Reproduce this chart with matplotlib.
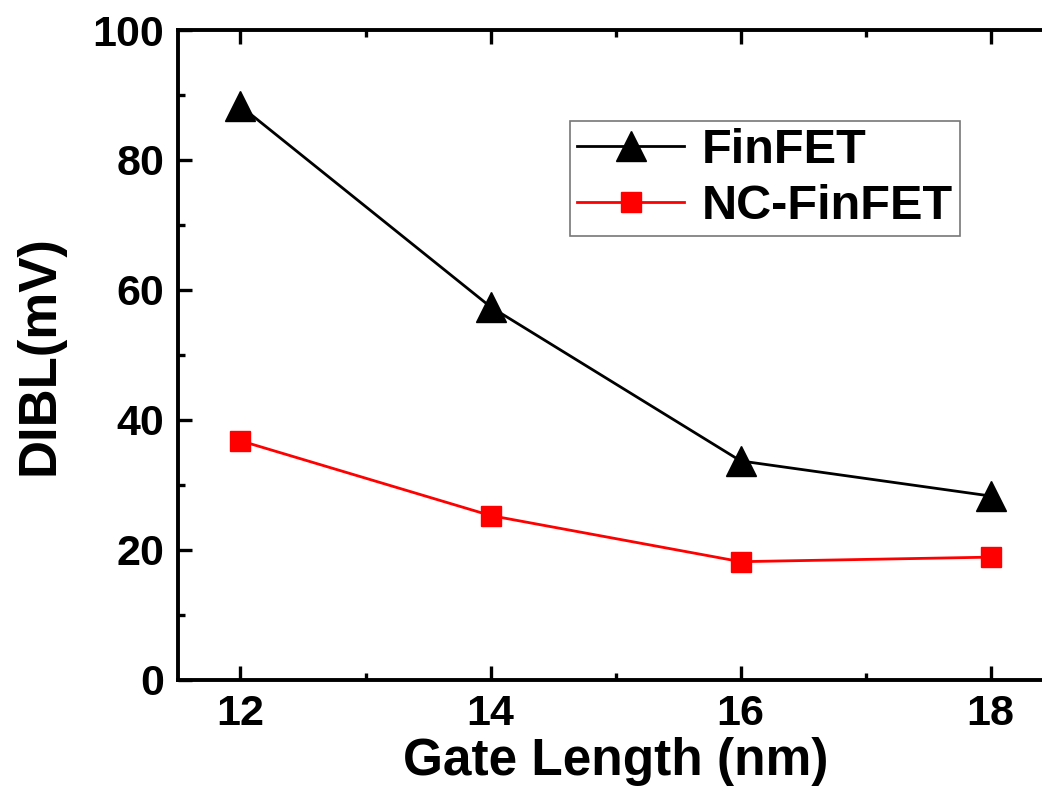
import matplotlib.pyplot as plt
from matplotlib.ticker import MultipleLocator

gate_length = [12, 14, 16, 18]
dibl_finfet = [88.3, 57.4, 33.7, 28.3]
dibl_ncfinfet = [36.8, 25.3, 18.2, 18.9]

plt.rcParams['font.family'] = ['Liberation Sans', 'DejaVu Sans']
plt.rcParams['font.weight'] = 'bold'

fig = plt.figure(figsize=(10.42, 7.98), dpi=100)
ax = fig.add_axes([0.1708, 0.1479, 0.84, 0.8145])

ax.plot(gate_length, dibl_finfet, color='black', lw=2.0, marker='^',
        markersize=21, label='FinFET')
ax.plot(gate_length, dibl_ncfinfet, color='red', lw=2.0, marker='s',
        markersize=15, label='NC-FinFET')

ax.set_xlim(11.5, 18.5)
ax.set_ylim(0, 100)
ax.xaxis.set_major_locator(MultipleLocator(2))
ax.xaxis.set_minor_locator(MultipleLocator(1))
ax.yaxis.set_major_locator(MultipleLocator(20))
ax.yaxis.set_minor_locator(MultipleLocator(10))

for s in ax.spines.values():
    s.set_linewidth(2.8)
ax.spines['right'].set_visible(False)
ax.tick_params(which='both', direction='in', top=True, right=False, width=2.4)
ax.tick_params(which='major', length=10, labelsize=31, pad=10)
ax.tick_params(which='minor', length=5)
for lab in ax.get_xticklabels() + ax.get_yticklabels():
    lab.set_fontweight('bold')

ax.set_xlabel('Gate Length (nm)', fontsize=37, fontweight='bold', labelpad=2)
ax.set_ylabel('DIBL(mV)', fontsize=38, fontweight='bold', labelpad=20)

leg = ax.legend(loc='upper left', bbox_to_anchor=(0.448, 0.86), fontsize=35,
                frameon=True, fancybox=False, edgecolor='#555555',
                handlelength=2.2, handletextpad=0.35, borderpad=0.15,
                labelspacing=0.22, borderaxespad=0)
leg.get_frame().set_linewidth(1.2)
for t in leg.get_texts():
    t.set_fontweight('bold')

fig.savefig('out.png', dpi=100)
